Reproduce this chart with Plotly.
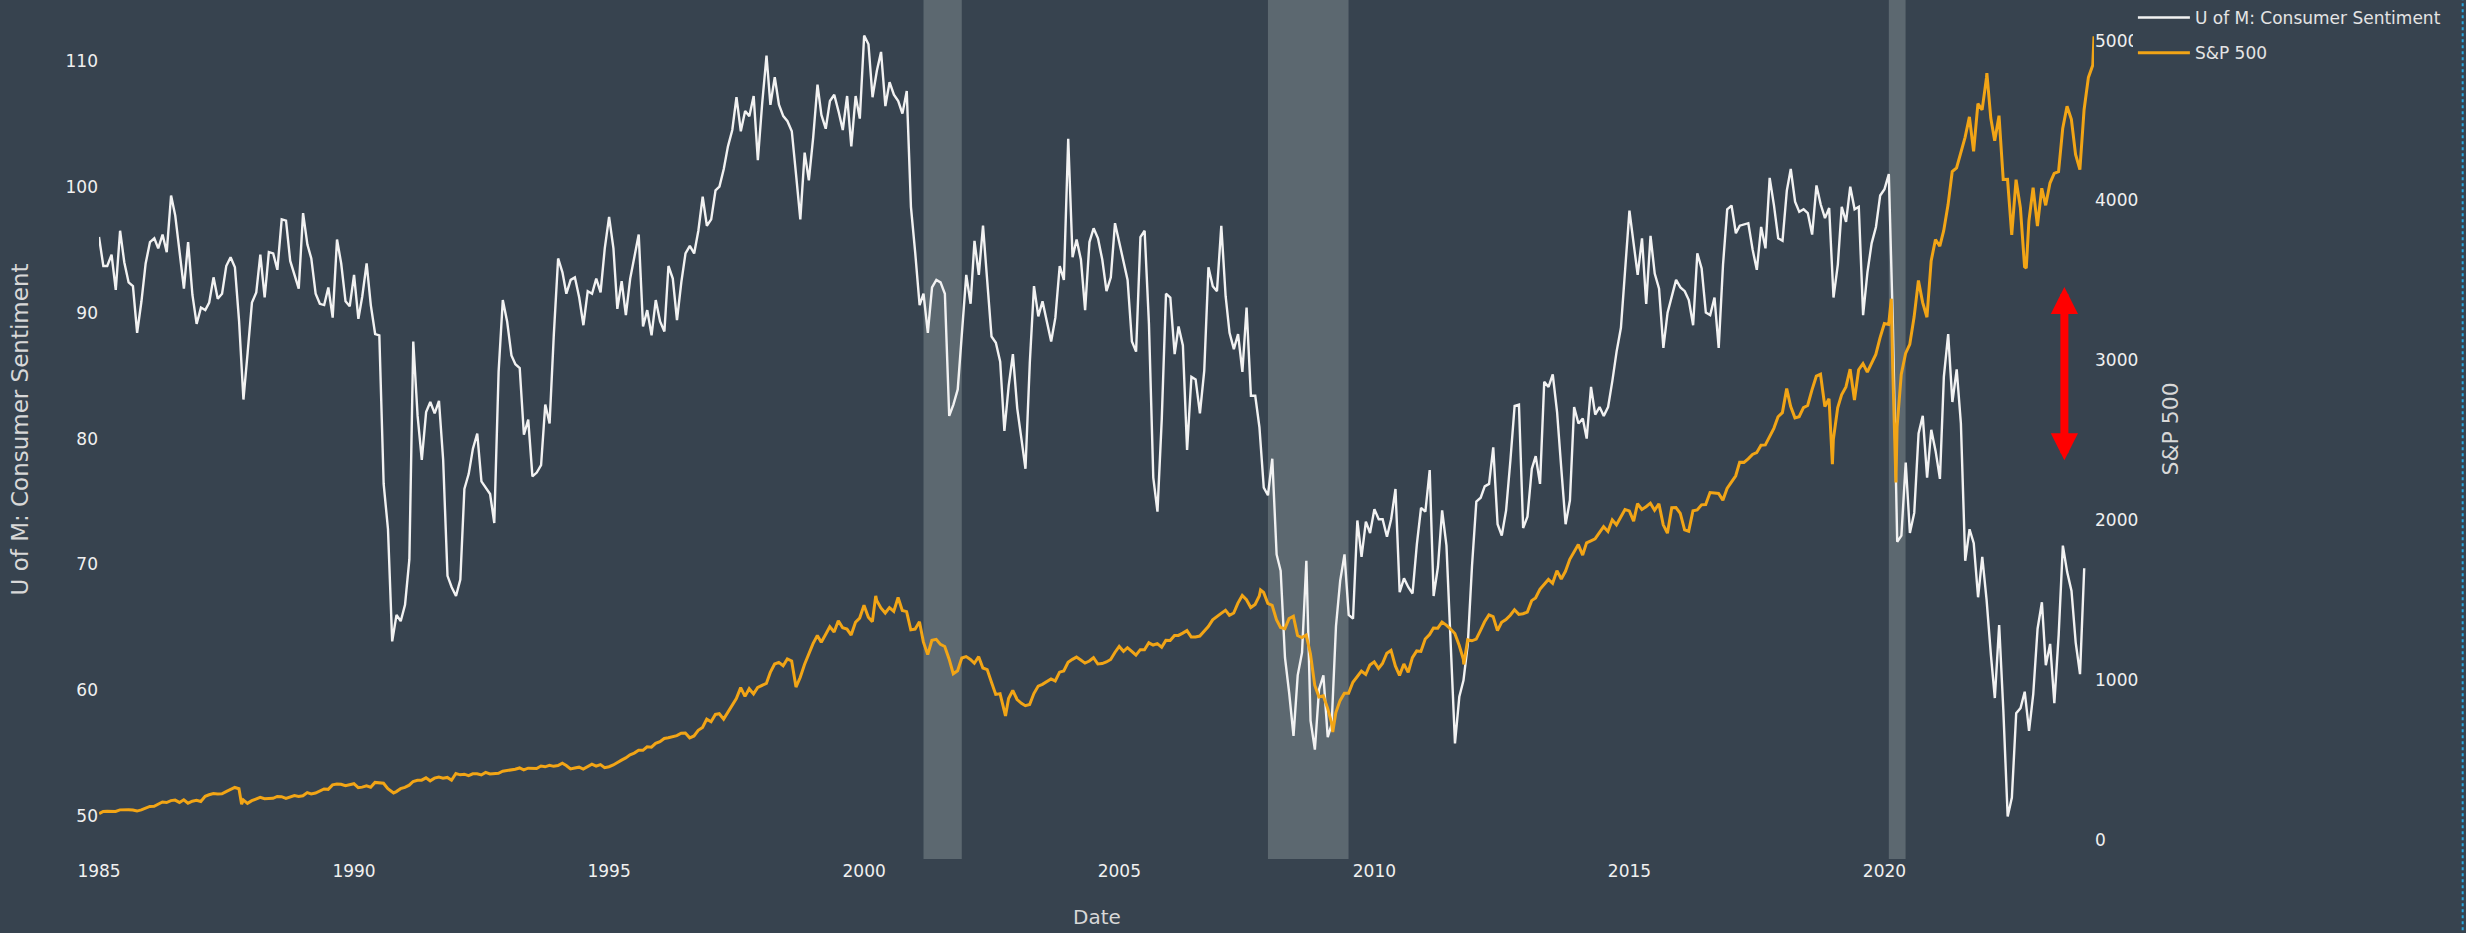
import pandas as pd
import plotly.graph_objects as go

# ---------------- data ----------------
# University of Michigan Consumer Sentiment, monthly, Jan 1985 - Dec 2023
sentiment = [
    96.0, 93.7, 93.7, 94.6, 91.8, 96.5, 94.0, 92.4, 92.1, 88.4, 90.9, 93.9,   # 1985
    95.6, 95.9, 95.1, 96.2, 94.8, 99.3, 97.7, 94.9, 91.9, 95.6, 91.4, 89.1,   # 1986
    90.4, 90.2, 90.8, 92.8, 91.1, 91.5, 93.7, 94.4, 93.6, 89.3, 83.1, 86.8,   # 1987
    90.8, 91.6, 94.6, 91.2, 94.8, 94.7, 93.4, 97.4, 97.3, 94.1, 93.0, 91.9,   # 1988
    97.9, 95.4, 94.3, 91.5, 90.7, 90.6, 92.0, 89.6, 95.8, 93.9, 90.9, 90.5,   # 1989
    93.0, 89.5, 91.3, 93.9, 90.6, 88.3, 88.2, 76.4, 72.8, 63.9, 66.0, 65.5,   # 1990
    66.8, 70.4, 87.7, 81.8, 78.3, 82.1, 82.9, 82.0, 83.0, 78.3, 69.1, 68.2,   # 1991
    67.5, 68.8, 76.0, 77.2, 79.2, 80.4, 76.6, 76.1, 75.6, 73.3, 85.3, 91.0,   # 1992
    89.3, 86.6, 85.9, 85.6, 80.3, 81.5, 77.0, 77.3, 77.9, 82.7, 81.2, 88.2,   # 1993
    94.3, 93.2, 91.5, 92.6, 92.8, 91.2, 89.0, 91.7, 91.5, 92.7, 91.6, 95.1,   # 1994
    97.6, 95.1, 90.3, 92.5, 89.8, 92.7, 94.4, 96.2, 88.9, 90.2, 88.2, 91.0,   # 1995
    89.3, 88.5, 93.7, 92.7, 89.4, 92.4, 94.7, 95.3, 94.7, 96.5, 99.2, 96.9,   # 1996
    97.4, 99.7, 100.0, 101.4, 103.2, 104.5, 107.1, 104.4, 106.0, 105.6, 107.2, 102.1,  # 1997
    106.6, 110.4, 106.5, 108.7, 106.5, 105.6, 105.2, 104.4, 100.9, 97.4, 102.7, 100.5,  # 1998
    103.9, 108.1, 105.7, 104.6, 106.8, 107.3, 106.0, 104.5, 107.2, 103.2, 107.2, 105.4,  # 1999
    112.0, 111.3, 107.1, 109.2, 110.7, 106.4, 108.3, 107.3, 106.8, 105.8, 107.6, 98.4,  # 2000
    94.7, 90.6, 91.5, 88.4, 92.0, 92.6, 92.4, 91.5, 81.8, 82.7, 83.9, 88.8,   # 2001
    93.0, 90.7, 95.7, 93.0, 96.9, 92.4, 88.1, 87.6, 86.1, 80.6, 84.2, 86.7,   # 2002
    82.4, 79.9, 77.6, 86.0, 92.1, 89.7, 90.9, 89.3, 87.7, 89.6, 93.7, 92.6,   # 2003
    103.8, 94.4, 95.8, 94.2, 90.2, 95.6, 96.7, 95.9, 94.2, 91.7, 92.8, 97.1,  # 2004
    95.5, 94.1, 92.6, 87.7, 86.9, 96.0, 96.5, 89.1, 76.9, 74.2, 81.6, 91.5,   # 2005
    91.2, 86.7, 88.9, 87.4, 79.1, 84.9, 84.7, 82.0, 85.4, 93.6, 92.1, 91.7,   # 2006
    96.9, 91.3, 88.4, 87.1, 88.3, 85.3, 90.4, 83.4, 83.4, 80.9, 76.1, 75.5,   # 2007
    78.4, 70.8, 69.5, 62.6, 59.8, 56.4, 61.2, 63.0, 70.3, 57.6, 55.3, 60.1,   # 2008
    61.2, 56.3, 57.3, 65.1, 68.7, 70.8, 66.0, 65.7, 73.5, 70.6, 73.4, 72.5,   # 2009
    74.4, 73.6, 73.6, 72.2, 73.6, 76.0, 67.8, 68.9, 68.2, 67.7, 71.6, 74.5,   # 2010
    74.2, 77.5, 67.5, 69.8, 74.3, 71.5, 63.7, 55.8, 59.5, 60.8, 63.7, 69.9,   # 2011
    75.0, 75.3, 76.2, 76.4, 79.3, 73.2, 72.3, 74.3, 78.3, 82.6, 82.7, 72.9,   # 2012
    73.8, 77.6, 78.6, 76.4, 84.5, 84.1, 85.1, 82.1, 77.5, 73.2, 75.1, 82.5,   # 2013
    81.2, 81.6, 80.0, 84.1, 81.9, 82.5, 81.8, 82.5, 84.6, 86.9, 88.8, 93.6,   # 2014
    98.1, 95.4, 93.0, 95.9, 90.7, 96.1, 93.1, 91.9, 87.2, 90.0, 91.3, 92.6,   # 2015
    92.0, 91.7, 91.0, 89.0, 94.7, 93.5, 90.0, 89.8, 91.2, 87.2, 93.8, 98.2,   # 2016
    98.5, 96.3, 96.9, 97.0, 97.1, 95.0, 93.4, 96.8, 95.1, 100.7, 98.5, 95.9,  # 2017
    95.7, 99.7, 101.4, 98.8, 98.0, 98.2, 97.9, 96.2, 100.1, 98.6, 97.5, 98.3, # 2018
    91.2, 93.8, 98.4, 97.2, 100.0, 98.2, 98.4, 89.8, 93.2, 95.5, 96.8, 99.3,  # 2019
    99.8, 101.0, 89.1, 71.8, 72.3, 78.1, 72.5, 74.1, 80.4, 81.8, 76.9, 80.7,  # 2020
    79.0, 76.8, 84.9, 88.3, 82.9, 85.5, 81.2, 70.3, 72.8, 71.7, 67.4, 70.6,   # 2021
    67.2, 62.8, 59.4, 65.2, 58.4, 50.0, 51.5, 58.2, 58.6, 59.9, 56.8, 59.7,   # 2022
    64.9, 67.0, 62.0, 63.7, 59.0, 64.4, 71.5, 69.4, 67.9, 63.8, 61.3, 69.7,   # 2023
]
sentiment_start = "1985-01-01"

# S&P 500 month-end closes, Jan 1985 - Jan 2024
sp_monthly = [
    179.6, 181.2, 180.7, 179.8, 189.6, 191.9, 190.9, 188.6, 182.1, 189.8, 202.2, 211.3,
    211.8, 226.9, 238.9, 235.5, 247.4, 250.8, 236.1, 252.9, 231.3, 244.0, 249.2, 242.2,
    274.1, 284.2, 291.7, 288.4, 290.1, 304.0, 318.7, 329.8, 321.8, 251.8, 230.3, 247.1,
    257.1, 267.8, 258.9, 261.3, 262.2, 273.5, 272.0, 261.5, 271.9, 279.0, 273.7, 277.7,
    297.5, 288.9, 294.9, 309.6, 320.5, 318.0, 346.1, 351.5, 349.2, 340.4, 346.0, 353.4,
    329.1, 331.9, 339.9, 330.8, 361.2, 358.0, 356.2, 322.6, 306.1, 304.0, 322.2, 330.2,
    343.9, 367.1, 375.2, 375.3, 389.8, 371.2, 387.8, 395.4, 387.9, 392.5, 375.2, 417.1,
    408.8, 412.7, 403.7, 415.0, 415.4, 408.1, 424.2, 414.0, 417.8, 418.7, 431.4, 435.7,
    438.8, 443.4, 451.7, 440.2, 450.2, 450.5, 448.1, 463.6, 458.9, 467.8, 461.8, 466.5,
    481.6, 467.1, 445.8, 450.9, 456.5, 444.3, 458.3, 475.5, 462.7, 472.4, 453.7, 459.3,
    470.4, 487.4, 500.7, 514.7, 533.4, 544.8, 562.1, 561.9, 584.4, 581.5, 605.4, 615.9,
    636.0, 640.4, 645.5, 654.2, 669.1, 670.6, 640.0, 652.0, 687.3, 705.3, 757.0, 740.7,
    786.2, 790.8, 757.1, 801.3, 848.3, 885.1, 954.3, 899.5, 947.3, 914.6, 955.4, 970.4,
    980.3, 1049.3, 1101.8, 1111.8, 1090.8, 1133.8, 1120.7, 957.3, 1017.0, 1098.7, 1163.6, 1229.2,
    1279.6, 1238.3, 1286.4, 1335.2, 1301.8, 1372.7, 1328.7, 1320.4, 1282.7, 1362.9, 1389.0, 1469.3,
    1394.5, 1366.4, 1498.6, 1452.4, 1420.6, 1454.6, 1430.8, 1517.7, 1436.5, 1429.4, 1315.2, 1320.3,
    1366.0, 1239.9, 1160.3, 1249.5, 1255.8, 1224.4, 1211.2, 1133.6, 1040.9, 1059.8, 1139.5, 1148.1,
    1130.2, 1106.7, 1147.4, 1076.9, 1067.1, 989.8, 911.6, 916.1, 815.3, 885.8, 936.3, 879.8,
    855.7, 841.2, 848.2, 916.9, 963.6, 974.5, 990.3, 1008.0, 996.0, 1050.7, 1058.2, 1111.9,
    1131.1, 1144.9, 1126.2, 1107.3, 1120.7, 1140.8, 1101.7, 1104.2, 1114.6, 1130.2, 1173.8, 1211.9,
    1181.3, 1203.6, 1180.6, 1156.9, 1191.5, 1191.3, 1234.2, 1220.3, 1228.8, 1207.0, 1249.5, 1248.3,
    1280.1, 1280.7, 1294.9, 1310.6, 1270.1, 1270.2, 1276.7, 1303.8, 1335.9, 1377.9, 1400.6, 1418.3,
    1438.2, 1406.8, 1420.9, 1482.4, 1530.6, 1503.4, 1455.3, 1474.0, 1526.8, 1549.4, 1481.1, 1468.4,
    1378.6, 1330.6, 1322.7, 1385.6, 1400.4, 1280.0, 1267.4, 1282.8, 1166.4, 968.8, 896.2, 903.3,
    825.9, 735.1, 797.9, 872.8, 919.1, 919.3, 987.5, 1020.6, 1057.1, 1036.2, 1095.6, 1115.1,
    1073.9, 1104.5, 1169.4, 1186.7, 1089.4, 1030.7, 1101.6, 1049.3, 1141.2, 1183.3, 1180.6, 1257.6,
    1286.1, 1327.2, 1325.8, 1363.6, 1345.2, 1320.6, 1292.3, 1218.9, 1131.4, 1253.3, 1247.0, 1257.6,
    1312.4, 1365.7, 1408.5, 1397.9, 1310.3, 1362.2, 1379.3, 1406.6, 1440.7, 1412.2, 1416.2, 1426.2,
    1498.1, 1514.7, 1569.2, 1597.6, 1630.7, 1606.3, 1685.7, 1633.0, 1681.6, 1756.5, 1805.8, 1848.4,
    1782.6, 1859.5, 1872.3, 1884.0, 1923.6, 1960.2, 1930.7, 2003.4, 1972.3, 2018.1, 2067.6, 2058.9,
    1995.0, 2104.5, 2067.9, 2085.5, 2107.4, 2063.1, 2103.8, 1972.2, 1920.0, 2079.4, 2080.4, 2043.9,
    1940.2, 1932.2, 2059.7, 2065.3, 2097.0, 2098.9, 2173.6, 2171.0, 2168.3, 2126.2, 2199.0, 2238.8,
    2278.9, 2363.6, 2362.7, 2384.2, 2411.8, 2423.4, 2470.3, 2471.7, 2519.4, 2575.3, 2647.6, 2673.6,
    2823.8, 2713.8, 2640.9, 2648.1, 2705.3, 2718.4, 2816.3, 2901.5, 2914.0, 2711.7, 2760.2, 2506.9,
    2704.1, 2784.5, 2834.4, 2945.8, 2752.1, 2941.8, 2980.4, 2926.5, 2976.7, 3037.6, 3141.0, 3230.8,
    3225.5, 2954.2, 2584.6, 2912.4, 3044.3, 3100.3, 3271.1, 3500.3, 3363.0, 3270.0, 3621.6, 3756.1,
    3714.2, 3811.2, 3972.9, 4181.2, 4204.1, 4297.5, 4395.3, 4522.7, 4307.5, 4605.4, 4567.0, 4766.2,
    4515.6, 4373.9, 4530.4, 4131.9, 4132.2, 3785.4, 4130.3, 3955.0, 3585.6, 3872.0, 4080.1, 3839.5,
    4076.6, 3970.2, 4109.3, 4169.5, 4179.8, 4450.4, 4589.0, 4507.7, 4288.1, 4193.8, 4567.8, 4769.8,
    4845.7,
]
sp_monthly_start = "1985-01-31"

# Notable daily S&P 500 closes (highs / lows between month ends)
sp_daily_dates = ["1985-01-02", "1987-10-19", "1990-10-11", "2000-03-24", "2002-10-09",
                  "2007-10-09", "2009-03-09", "2011-10-03", "2018-12-24", "2020-02-19",
                  "2020-03-23", "2022-01-03", "2022-10-12", "2024-02-09"]
sp_daily_values = [165.4, 224.8, 295.5, 1527.5, 776.8,
                   1565.2, 676.5, 1099.2, 2351.1, 3386.2,
                   2237.4, 4796.6, 3577.0, 5026.6]

# NBER recessions
recession_starts = ["2001-03-01", "2007-12-01", "2020-02-01"]
recession_ends = ["2001-11-30", "2009-06-30", "2020-05-31"]

left_ticks = [50, 60, 70, 80, 90, 100, 110]
right_ticks = [0, 1000, 2000, 3000, 4000, 5000]

# --------------- build series ---------------
sent_dates = pd.date_range(sentiment_start, periods=len(sentiment), freq="MS")
sp = pd.concat([
    pd.Series(sp_monthly, index=pd.date_range(sp_monthly_start, periods=len(sp_monthly), freq="ME")),
    pd.Series(sp_daily_values, index=pd.to_datetime(sp_daily_dates)),
]).sort_index()

BG = "#37434f"
SHADE = "#5c6870"
TXT = "#f0f0f0"
FONT = "DejaVu Sans"

fig = go.Figure()
fig.add_trace(go.Scatter(x=sent_dates, y=sentiment, name="U of M: Consumer Sentiment",
                         mode="lines", line=dict(color="#f2f2f2", width=2.4),
                         legendgroup="a"))
fig.add_trace(go.Scatter(x=sp.index, y=sp.values, name="S&P 500", yaxis="y2",
                         mode="lines", line=dict(color="#f2a516", width=3),
                         legendgroup="b"))

for s, e in zip(recession_starts, recession_ends):
    fig.add_vrect(x0=s, x1=e, fillcolor=SHADE, opacity=1, line_width=0, layer="below")

# red double-headed arrow
fig.add_annotation(x="2023-07-12", y=3460, ax="2023-07-12", ay=2366,
                   xref="x", yref="y2", axref="x", ayref="y2", text="",
                   showarrow=True, arrowhead=2, startarrowhead=2, arrowside="end+start",
                   arrowsize=0.68, startarrowsize=0.68, arrowwidth=8, arrowcolor="#ff0000")

# axis titles
fig.add_annotation(text="U of M: Consumer Sentiment", xref="paper", yref="paper",
                   x=-0.0396, y=0.5, xanchor="center", yanchor="middle", textangle=-90,
                   showarrow=False, font=dict(family=FONT, size=23, color="#d8d8d8"))
fig.add_annotation(text="S&P 500", xref="paper", yref="paper",
                   x=1.0381, y=0.5, xanchor="center", yanchor="middle", textangle=-90,
                   showarrow=False, font=dict(family=FONT, size=22, color="#d8d8d8"))
fig.add_annotation(text="Date", xref="paper", yref="paper",
                   x=0.5, y=-0.0675, xanchor="center", yanchor="middle",
                   showarrow=False, font=dict(family=FONT, size=20, color="#d8d8d8"))

# dotted frame edge at the far right
fig.add_shape(type="line", xref="paper", yref="paper", x0=1.1848, x1=1.1848, y0=-0.09, y1=1.0,
              line=dict(color="#2aa6dc", width=2, dash="dot"))

fig.update_layout(
    width=2466, height=933,
    margin=dict(l=99, r=372, t=0, b=74),
    paper_bgcolor=BG, plot_bgcolor=BG,
    font=dict(family=FONT, size=17, color=TXT),
    showlegend=True,
    legend=dict(x=1.0195, y=1.0, xanchor="left", yanchor="top", bgcolor=BG,
                font=dict(family=FONT, size=17, color="#e4e4e4"),
                itemwidth=52,
                traceorder="grouped", tracegroupgap=10),
    xaxis=dict(range=["1985-01-01", "2024-02-09"], tickmode="linear", tick0="1985-01-01",
               dtick="M60", tickformat="%Y", showgrid=False, zeroline=False, showline=False,
               ticks="", tickfont=dict(family=FONT, size=17, color=TXT)),
    yaxis=dict(range=[46.62, 114.82], tickvals=left_ticks, showgrid=False, zeroline=False,
               showline=False, ticks="", tickfont=dict(family=FONT, size=17, color=TXT)),
    yaxis2=dict(range=[-117.6, 5253.9], tickvals=right_ticks, overlaying="y", side="right",
                showgrid=False, zeroline=False, showline=False, ticks="",
                tickfont=dict(family=FONT, size=17, color=TXT)),
)

fig.write_html("out.html",
               config={"displayModeBar": False},
               post_script="document.body.style.margin='0';document.body.style.padding='0';"
                           "document.body.style.background='" + BG + "';")
